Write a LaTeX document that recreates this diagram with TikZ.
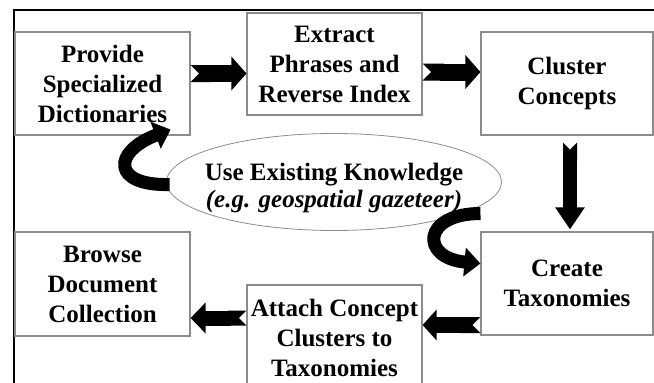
\documentclass[tikz,border=0pt]{standalone}
\usepackage{fontspec}
\setmainfont{Liberation Serif}
\usetikzlibrary{arrows.meta,calc,shapes.geometric}
\definecolor{boxgray}{HTML}{8C8C8C}
\begin{document}
\begin{tikzpicture}[x=1pt,y=-1pt,
  stepbox/.style={draw=boxgray,line width=1.1pt,fill=white,inner sep=0pt,
    minimum width=175pt,minimum height=103pt,align=center,
    font=\fontsize{25}{30}\selectfont\bfseries},
  blockarrow/.style={line width=#1,{Triangle Cap[reversed]}-{Triangle[width=33pt,length=15pt]}},
  curvearrow/.style={line width=13pt,-{Triangle[width=28pt,length=16pt]}}
]
\useasboundingbox (0,0) rectangle (654,383);
\clip (0,0) rectangle (654,383);
\fill[white] (0,0) rectangle (654,383);
\draw[line width=2.5pt] (14,400) -- (14,10) -- (670,10);

\node[stepbox] (prov) at (102.5,83.5) {Provide\\Specialized\\Dictionaries};
\node[stepbox,minimum height=102pt] (extr) at (334.5,64) {Extract\\Phrases and\\Reverse Index};
\node[stepbox,minimum width=172pt] (clus) at (567,83.5) {Cluster\\Concepts};
\node[stepbox,minimum width=172pt] (crea) at (567,283.5) {Create\\Taxonomies};
\node[stepbox,minimum height=106pt] (atta) at (334.5,338) {Attach Concept\\Clusters to\\Taxonomies};
\node[stepbox,minimum height=104pt] (brow) at (102.5,284) {Browse\\Document\\Collection};

\node[draw=boxgray,line width=0.8pt,ellipse,inner sep=0pt,minimum width=335pt,minimum height=97pt] (know) at (334,182) {};
\node[inner sep=0pt,align=center,font=\fontsize{25}{27}\selectfont\bfseries] (knowtxt) at (334,188)
  {Use Existing Knowledge\\\textit{(e.g. geospatial gazeteer)}};

\draw[blockarrow=17pt] ($(prov.east)+(0,-10)$) -- ($(extr.west)+(0,9.5)$);
\draw[blockarrow=17pt] ($(extr.east)+(0,8)$) -- ($(clus.west)+(0,-11.5)$);
\draw[line width=14pt,{Triangle Cap[reversed]}-{Triangle[width=28pt,length=22pt]}] ($(clus.south)+(3,7)$) -- ($(crea.north)+(3,-2)$);
\draw[line width=16pt,{Triangle Cap[reversed]}-{Triangle[width=30pt,length=14pt]}] ($(crea.west)+(0,41.5)$) -- ($(atta.east)+(0,-13)$);
\draw[line width=15pt,{Triangle Cap[reversed]}-{Triangle[width=30pt,length=15pt]}] ($(atta.west)+(0,-20)$) -- ($(brow.east)+(0,34)$);

\coordinate (ktailL) at ($(know.west)+(3.5,2.5)$);
\coordinate (ktailR) at ($(crea.west)+(0,-70)$);
\draw[curvearrow] (ktailL) .. controls (112,186) and (112,152) .. ($(prov.south east)+(-20,-6)$);
\draw[curvearrow] (ktailR) .. controls (422,213.5) and (420,258) .. ($(crea.west)+(0,-20)$);
\end{tikzpicture}
\end{document}
